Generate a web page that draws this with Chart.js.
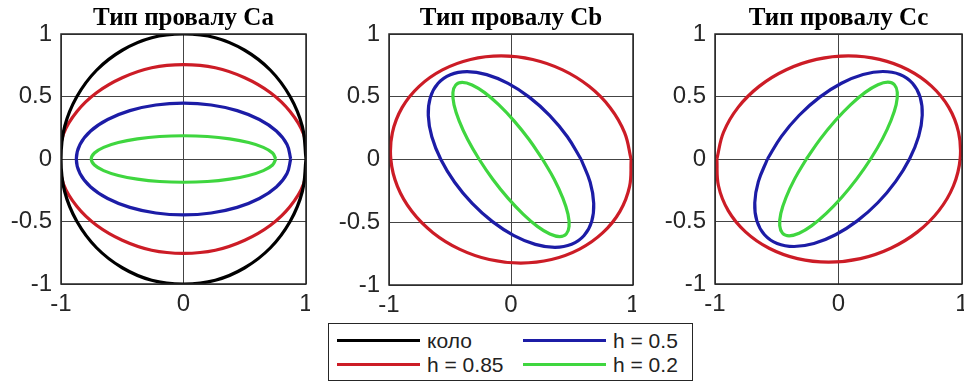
<!DOCTYPE html>
<html>
<head>
<meta charset="utf-8">
<script src="https://cdn.jsdelivr.net/npm/chart.js@4.4.0/dist/chart.umd.min.js"></script>
<style>
  body { margin: 0; background: #fff; width: 964px; height: 381px; overflow: hidden; position: relative; }
  canvas { position: absolute; top: 0; }
  #legend { position: absolute; left: 328px; top: 323px; width: 363px; height: 56px; border: 1.5px solid #262626; background: #fff; }
  .item { position: absolute; height: 24px; font: 21px "Liberation Sans", Arial, sans-serif; color: #222; line-height: 24px; white-space: nowrap; }
  .item span { display: inline-block; width: 83px; height: 0; border-top: 3.5px solid; vertical-align: middle; margin-right: 7px; position: relative; top: -2px; }
</style>
</head>
<body>
<canvas id="ca" width="310" height="320" style="left:0px"></canvas>
<canvas id="cb" width="306" height="320" style="left:330px"></canvas>
<canvas id="cc" width="309" height="320" style="left:655px"></canvas>
<div id="legend"></div>
<script>
// series and tick values
const seriesNames = ["коло", "h = 0.85", "h = 0.5", "h = 0.2"];
const titles = ["Тип провалу Ca", "Тип провалу Cb", "Тип провалу Cc"];
const xTicks = [-1, 0, 1];
const yTicks = [-1, -0.5, 0, 0.5, 1];

// Ca
const caCircle = [[1,0],[0.97,0.26],[0.87,0.5],[0.71,0.71],[0.5,0.87],[0.26,0.97],[0,1],[-0.26,0.97],[-0.5,0.87],[-0.71,0.71],[-0.87,0.5],[-0.97,0.26],[-1,0],[-0.97,-0.26],[-0.87,-0.5],[-0.71,-0.71],[-0.5,-0.87],[-0.26,-0.97],[0,-1],[0.26,-0.97],[0.5,-0.87],[0.71,-0.71],[0.87,-0.5],[0.97,-0.26],[1,0]];
const caH085 = [[1.01,0],[0.98,0.2],[0.87,0.38],[0.71,0.53],[0.5,0.65],[0.26,0.73],[0,0.755],[-0.26,0.73],[-0.5,0.65],[-0.71,0.53],[-0.87,0.38],[-0.98,0.2],[-1.01,0],[-0.98,-0.2],[-0.87,-0.38],[-0.71,-0.53],[-0.5,-0.65],[-0.26,-0.73],[0,-0.755],[0.26,-0.73],[0.5,-0.65],[0.71,-0.53],[0.87,-0.38],[0.98,-0.2],[1.01,0]];
const caH05 = [[0.875,0],[0.845,0.116],[0.758,0.224],[0.619,0.316],[0.438,0.387],[0.226,0.432],[0,0.447],[-0.226,0.432],[-0.438,0.387],[-0.619,0.316],[-0.758,0.224],[-0.845,0.116],[-0.875,0],[-0.845,-0.116],[-0.758,-0.224],[-0.619,-0.316],[-0.438,-0.387],[-0.226,-0.432],[0,-0.447],[0.226,-0.432],[0.438,-0.387],[0.619,-0.316],[0.758,-0.224],[0.845,-0.116],[0.875,0]];
const caH02 = [[0.753,0],[0.727,0.048],[0.652,0.093],[0.532,0.132],[0.377,0.161],[0.195,0.18],[0,0.186],[-0.195,0.18],[-0.377,0.161],[-0.532,0.132],[-0.652,0.093],[-0.727,0.048],[-0.753,0],[-0.727,-0.048],[-0.652,-0.093],[-0.532,-0.132],[-0.377,-0.161],[-0.195,-0.18],[0,-0.186],[0.195,-0.18],[0.377,-0.161],[0.532,-0.132],[0.652,-0.093],[0.727,-0.048],[0.753,0]];

// Cb
const cbH085 = [[0.985,0],[0.931,0.214],[0.813,0.413],[0.64,0.583],[0.423,0.714],[0.178,0.797],[-0.08,0.825],[-0.332,0.797],[-0.562,0.714],[-0.753,0.583],[-0.893,0.413],[-0.972,0.214],[-0.985,0],[-0.931,-0.214],[-0.813,-0.413],[-0.64,-0.583],[-0.423,-0.714],[-0.178,-0.797],[0.08,-0.825],[0.332,-0.797],[0.562,-0.714],[0.753,-0.583],[0.893,-0.413],[0.972,-0.214],[0.985,0]];
const cbH05 = [[0.575,0],[0.462,0.181],[0.318,0.35],[0.152,0.495],[-0.024,0.606],[-0.199,0.676],[-0.36,0.7],[-0.497,0.676],[-0.599,0.606],[-0.661,0.495],[-0.678,0.35],[-0.649,0.181],[-0.575,0],[-0.462,-0.181],[-0.318,-0.35],[-0.152,-0.495],[0.024,-0.606],[0.199,-0.676],[0.36,-0.7],[0.497,-0.676],[0.599,-0.606],[0.661,-0.495],[0.678,-0.35],[0.649,-0.181],[0.575,0]];
const cbH02 = [[0.26,0],[0.148,0.159],[0.025,0.308],[-0.099,0.435],[-0.216,0.533],[-0.319,0.594],[-0.4,0.615],[-0.453,0.594],[-0.476,0.533],[-0.467,0.435],[-0.425,0.308],[-0.355,0.159],[-0.26,0],[-0.148,-0.159],[-0.025,-0.308],[0.099,-0.435],[0.216,-0.533],[0.319,-0.594],[0.4,-0.615],[0.453,-0.594],[0.476,-0.533],[0.467,-0.435],[0.425,-0.308],[0.355,-0.159],[0.26,0]];

// Cc
const ccH085 = [[-0.985,0],[-0.931,0.214],[-0.813,0.413],[-0.64,0.583],[-0.423,0.714],[-0.178,0.797],[0.08,0.825],[0.332,0.797],[0.562,0.714],[0.753,0.583],[0.893,0.413],[0.972,0.214],[0.985,0],[0.931,-0.214],[0.813,-0.413],[0.64,-0.583],[0.423,-0.714],[0.178,-0.797],[-0.08,-0.825],[-0.332,-0.797],[-0.562,-0.714],[-0.753,-0.583],[-0.893,-0.413],[-0.972,-0.214],[-0.985,0]];
const ccH05 = [[-0.575,0],[-0.462,0.181],[-0.318,0.35],[-0.152,0.495],[0.024,0.606],[0.199,0.676],[0.36,0.7],[0.497,0.676],[0.599,0.606],[0.661,0.495],[0.678,0.35],[0.649,0.181],[0.575,0],[0.462,-0.181],[0.318,-0.35],[0.152,-0.495],[-0.024,-0.606],[-0.199,-0.676],[-0.36,-0.7],[-0.497,-0.676],[-0.599,-0.606],[-0.661,-0.495],[-0.678,-0.35],[-0.649,-0.181],[-0.575,0]];
const ccH02 = [[-0.26,0],[-0.148,0.159],[-0.025,0.308],[0.099,0.435],[0.216,0.533],[0.319,0.594],[0.4,0.615],[0.453,0.594],[0.476,0.533],[0.467,0.435],[0.425,0.308],[0.355,0.159],[0.26,0],[0.148,-0.159],[0.025,-0.308],[-0.099,-0.435],[-0.216,-0.533],[-0.319,-0.594],[-0.4,-0.615],[-0.453,-0.594],[-0.476,-0.533],[-0.467,-0.435],[-0.425,-0.308],[-0.355,-0.159],[-0.26,0]];

const colors = ["#000000", "#cc1c26", "#1c1ca6", "#3fd63f"];

const framePlugin = {
  id: "frame",
  afterDraw(chart) {
    const { ctx, chartArea: a } = chart;
    ctx.save();
    ctx.strokeStyle = "#262626";
    ctx.lineWidth = 1.5;
    ctx.strokeRect(a.left, a.top, a.right - a.left, a.bottom - a.top);
    ctx.restore();
  }
};

function makeChart(id, title, curves, colorIdx, yWidth, xHeight, padRight) {
  new Chart(document.getElementById(id), {
    type: "scatter",
    data: {
      datasets: curves.map((pts, i) => ({
        label: seriesNames[colorIdx[i]],
        data: pts.map(p => ({ x: p[0], y: p[1] })),
        showLine: true,
        borderColor: colors[colorIdx[i]],
        borderWidth: 3.2,
        pointRadius: 0,
        tension: 0.4,
        fill: false
      }))
    },
    options: {
      responsive: false,
      animation: false,
      layout: { padding: { left: 0, right: padRight, top: 0, bottom: 0 } },
      plugins: {
        legend: { display: false },
        tooltip: { enabled: false },
        title: {
          display: true,
          text: title,
          fullSize: false,
          color: "#000",
          font: { family: "Liberation Serif", size: 25, weight: "bold", lineHeight: 1.2 },
          padding: { top: 4, bottom: 0 }
        }
      },
      scales: {
        x: {
          type: "linear", min: -1, max: 1,
          afterBuildTicks: s => { s.ticks = xTicks.map(v => ({ value: v })); },
          afterFit: s => { s.height = xHeight; s.paddingLeft = 0; s.paddingRight = 0; },
          grid: { color: "#444", lineWidth: 1, drawTicks: false },
          border: { display: false },
          ticks: { color: "#262626", padding: 6, maxRotation: 0, font: { family: "Liberation Sans", size: 24 }, callback: v => String(v) }
        },
        y: {
          type: "linear", min: -1, max: 1,
          afterBuildTicks: s => { s.ticks = yTicks.map(v => ({ value: v })); },
          afterFit: s => { s.width = yWidth; s.paddingTop = 0; s.paddingBottom = 0; },
          grid: { color: "#444", lineWidth: 1, drawTicks: false },
          border: { display: false },
          ticks: { color: "#262626", padding: 9, font: { family: "Liberation Sans", size: 24 }, callback: v => String(v) }
        }
      }
    },
    plugins: [framePlugin]
  });
}

makeChart("ca", titles[0], [caCircle, caH085, caH05, caH02], [0, 1, 2, 3], 61, 36, 4);
makeChart("cb", titles[1], [cbH085, cbH05, cbH02], [1, 2, 3], 59, 35, 3);
makeChart("cc", titles[2], [ccH085, ccH05, ccH02], [1, 2, 3], 60, 36, 2);

// legend: two columns, filled column by column
const legend = document.getElementById("legend");
seriesNames.forEach((name, i) => {
  const col = Math.floor(i / 2), row = i % 2;
  const el = document.createElement("div");
  el.className = "item";
  el.style.left = (col === 0 ? 8 : 194) + "px";
  el.style.top = (row === 0 ? 5 : 29) + "px";
  el.innerHTML = '<span style="border-color:' + colors[i] + '"></span>' + name;
  legend.appendChild(el);
});
</script>
</body>
</html>
